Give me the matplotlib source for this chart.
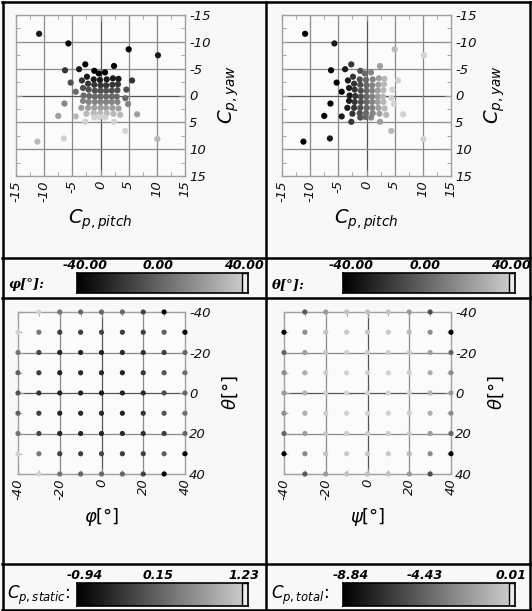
import numpy as np
import matplotlib
matplotlib.use("Agg")
import matplotlib.pyplot as plt
from matplotlib.colors import LinearSegmentedColormap
from matplotlib.lines import Line2D
from matplotlib.patches import Rectangle
from matplotlib.ticker import MultipleLocator

W, H = 532, 611
nan = np.nan

phi_deg = [-40, -30, -20, -10, 0, 10, 20, 30, 40]
theta_deg = [-40, -30, -20, -10, 0, 10, 20, 30, 40]

# rows: phi -40..40, cols: theta -40..40
cp_pitch = [
    [nan, -5.7, -2.7, -1.1, -0.3, 0.8, 2.4, 5.0, nan],
    [-10.9, -3.8, -2.4, -1.2, -0.1, 1.1, 2.2, 3.2, 10.2],
    [-6.3, -3.3, -2.2, -1.1, 0.0, 1.0, 2.1, 3.1, 5.6],
    [-5.3, -3.1, -2.1, -1.0, 0.0, 1.0, 2.0, 3.0, 4.6],
    [-4.4, -3.0, -2.0, -1.0, 0.0, 1.0, 2.0, 2.9, 4.4],
    [-6.4, -3.1, -2.1, -1.0, 0.0, 1.0, 2.0, 3.0, 4.9],
    [-7.5, -3.4, -2.2, -1.1, 0.0, 1.0, 2.1, 3.2, 6.5],
    [-11.2, -4.4, -2.5, -1.2, -0.1, 1.1, 2.3, 3.5, 10.1],
    [nan, -6.5, -2.7, -1.1, -0.2, 0.8, 2.4, 4.4, nan],
]
cp_yaw = [
    [nan, -9.7, -5.8, -4.6, -4.1, -4.3, -5.5, -8.6, nan],
    [-11.5, -4.9, -3.5, -3.0, -2.9, -3.0, -3.2, -3.1, -7.5],
    [-4.7, -2.8, -2.2, -2.0, -1.9, -1.9, -2.0, -2.1, -2.8],
    [-2.4, -1.4, -1.1, -0.9, -0.9, -0.9, -0.9, -1.0, -1.1],
    [-0.7, 0.0, 0.1, 0.2, 0.2, 0.2, 0.2, 0.2, 0.5],
    [1.5, 1.0, 1.2, 1.2, 1.2, 1.2, 1.2, 1.2, 1.6],
    [3.8, 2.3, 2.3, 2.3, 2.3, 2.3, 2.3, 2.4, 3.5],
    [8.6, 3.9, 3.4, 3.3, 3.3, 3.3, 3.4, 3.6, 8.1],
    [nan, 8.0, 4.9, 4.1, 4.0, 4.1, 4.9, 6.6, nan],
]

# rows: theta -40..40, cols: phi -40..40
cp_static = [
    [nan, 1.23, 0.25, 0.12, 0.12, 0.12, -0.25, -0.94, nan],
    [1.23, 0.30, -0.30, -0.30, -0.22, -0.30, -0.30, 0.05, -0.94],
    [0.25, -0.25, -0.56, -0.56, -0.56, -0.52, -0.44, -0.30, 0.12],
    [0.05, -0.30, -0.56, -0.52, -0.52, -0.56, -0.40, -0.08, 0.20],
    [-0.08, -0.40, -0.56, -0.62, -0.68, -0.62, -0.52, -0.15, 0.12],
    [0.05, -0.30, -0.56, -0.52, -0.52, -0.56, -0.40, -0.08, 0.20],
    [0.25, -0.25, -0.56, -0.56, -0.56, -0.52, -0.44, -0.30, 0.12],
    [1.23, 0.30, -0.30, -0.30, -0.22, -0.30, -0.30, 0.05, -0.94],
    [nan, 1.23, 0.25, 0.12, 0.12, 0.12, -0.25, -0.94, nan],
]
cp_total = [
    [nan, -5.06, -2.37, -0.75, -0.75, -0.75, -2.37, -5.60, nan],
    [-8.84, -2.91, -0.75, -0.42, -0.42, -0.42, -1.07, -2.91, -8.84],
    [-4.52, -2.15, -0.42, -0.21, -0.21, -0.21, -0.42, -2.15, -4.52],
    [-2.91, -1.50, -0.21, 0.01, 0.01, 0.01, -0.21, -1.50, -2.91],
    [-2.37, -1.29, -0.21, 0.01, 0.01, 0.01, -0.21, -1.29, -2.37],
    [-2.91, -1.50, -0.21, 0.01, 0.01, 0.01, -0.21, -1.50, -2.91],
    [-4.52, -2.15, -0.42, -0.21, -0.21, -0.21, -0.42, -2.15, -4.52],
    [-8.84, -2.91, -0.75, -0.42, -0.42, -0.42, -1.07, -2.91, -8.84],
    [nan, -5.06, -2.37, -0.75, -0.75, -0.75, -2.37, -5.60, nan],
]

cbar_ranges = {"phi": (-40.0, 40.0), "theta": (-40.0, 40.0),
               "static": (-0.94, 1.23), "total": (-8.84, 0.01)}
cbar_labels_phi = ["-40.00", "0.00", "40.00"]
cbar_labels_theta = ["-40.00", "0.00", "40.00"]
cbar_labels_static = ["-0.94", "0.15", "1.23"]
cbar_labels_total = ["-8.84", "-4.43", "0.01"]

cmap = LinearSegmentedColormap.from_list("grays", ["#000000", "#d2d2d2"])


def box(x0, y0, x1, y1):
    return [x0 / W, 1 - y1 / H, (x1 - x0) / W, (y1 - y0) / H]


def fx(x):
    return x / W


def fy(y):
    return 1 - y / H


def style_axes(ax, lim, step, minor, grid_at):
    ax.set_facecolor("#fbfbfb")
    ax.set_xlim(-lim, lim)
    ax.set_ylim(lim, -lim)
    ticks = list(range(-lim, lim + 1, step))
    ax.set_xticks(ticks)
    ax.set_yticks(ticks)
    ax.set_xticklabels([str(t) for t in ticks], rotation=90, fontstyle="italic", fontsize=9.5)
    ax.set_yticklabels([str(t) for t in ticks], fontstyle="italic", fontsize=9.5)
    ax.xaxis.set_minor_locator(MultipleLocator(minor))
    ax.yaxis.set_minor_locator(MultipleLocator(minor))
    ax.tick_params(which="both", direction="in", top=True, bottom=True, left=True, right=True,
                   labelleft=False, labelright=True, color="#999999", labelcolor="#111111", pad=3)
    ax.tick_params(which="major", length=4)
    ax.tick_params(which="minor", length=3)
    for g in grid_at:
        c = "#555555" if g == 0 else "#8a8a8a"
        ax.axvline(g, color=c, lw=0.9, zorder=1)
        ax.axhline(g, color=c, lw=0.9, zorder=1)
    for s in ax.spines.values():
        s.set_color("#a0a0a0")
        s.set_linewidth(1.0)


def colorbar(x0, x1, y0, y1, labels, label_text, label_kw):
    ax = fig.add_axes(box(x0, y0, x1, y1))
    grad = np.linspace(0, 1, 256)[None, :]
    ax.imshow(grad, aspect="auto", cmap=cmap, extent=[0, 1, 0, 1])
    ax.add_patch(Rectangle((0.965, 0.0), 0.035, 1.0, facecolor="#ececec", edgecolor="black", lw=1.0))
    ax.set_xlim(0, 1)
    ax.set_ylim(0, 1)
    ax.set_xticks([])
    ax.set_yticks([])
    for s in ax.spines.values():
        s.set_linewidth(1.2)
    xs = [x0 + 8, (x0 + x1) / 2 - 4, x1 - 4]
    for xx, lab in zip(xs, labels):
        fig.text(fx(xx), fy(y0 - 1), lab, ha="center", va="bottom", fontsize=9,
                 fontweight="bold", fontstyle="italic")
    fig.text(fx(label_kw["x"]), fy(label_kw["y"]), label_text, ha="left", va="center", **label_kw["kw"])


fig = plt.figure(figsize=(W / 100, H / 100), dpi=100, facecolor="#f8f8f8")

TH, PH = np.meshgrid(theta_deg, phi_deg)
pitch = np.array(cp_pitch)
yaw = np.array(cp_yaw)
PH2, TH2 = np.meshgrid(phi_deg, theta_deg)

# top panels: pressure coefficient scatter
for k, (x0, cval, rng) in enumerate([(16, PH, cbar_ranges["phi"]), (282, TH, cbar_ranges["theta"])]):
    ax = fig.add_axes(box(x0, 15, x0 + 169, 176))
    style_axes(ax, 15, 5, 2.5, [-10, -5, 0, 5, 10])
    ax.scatter(pitch.ravel(), yaw.ravel(), c=cval.ravel(), cmap=cmap, vmin=rng[0], vmax=rng[1],
               s=20, edgecolors="none", zorder=3, clip_on=False)
    fig.text(fx(x0 + 84), fy(220), r"$C_{p,pitch}$", ha="center", va="center", fontsize=14)
    fig.text(fx(x0 + 213), fy(95), r"$C_{p,yaw}$", ha="center", va="center", fontsize=14, rotation=90)

# bottom panels: grid of angles
for x0, vals, key, xl in [(18, cp_static, "static", r"$\varphi[\degree]$"),
                          (284, cp_total, "total", r"$\psi[\degree]$")]:
    ax = fig.add_axes(box(x0, 312, x0 + 167, 474))
    style_axes(ax, 40, 20, 10, [-20, 0, 20])
    rng = cbar_ranges[key]
    ax.scatter(PH2.ravel(), TH2.ravel(), c=np.array(vals).ravel(), cmap=cmap, vmin=rng[0], vmax=rng[1],
               s=14, edgecolors="none", zorder=3, clip_on=False)
    fig.text(fx(x0 + 84), fy(517), xl, ha="center", va="center", fontsize=13)
    fig.text(fx(x0 + 212), fy(393), r"$\theta[\degree]$", ha="center", va="center", fontsize=13, rotation=90)

serif_kw = dict(fontsize=9.5, fontweight="bold", fontstyle="italic", family="DejaVu Serif")
colorbar(77, 248, 273, 293, cbar_labels_phi, "φ[°]:", dict(x=8, y=285, kw=serif_kw))
colorbar(343, 515, 273, 293, cbar_labels_theta, "θ[°]:", dict(x=272, y=285, kw=serif_kw))
math_kw = dict(fontsize=12)
colorbar(77, 248, 583, 606, cbar_labels_static, r"$C_{p,static}$:", dict(x=7, y=595, kw=math_kw))
colorbar(343, 515, 583, 606, cbar_labels_total, r"$C_{p,total}$:", dict(x=271, y=595, kw=math_kw))

# panel frames
lw = 1.8
for y in [1.5, 258, 298, 564, 609.5]:
    fig.add_artist(Line2D([fx(2), fx(530)], [fy(y), fy(y)], color="black", lw=lw))
for x in [2.5, 266, 529.5]:
    fig.add_artist(Line2D([fx(x), fx(x)], [fy(1.5), fy(609.5)], color="black", lw=lw))

fig.savefig("out.png", dpi=100, facecolor=fig.get_facecolor())
